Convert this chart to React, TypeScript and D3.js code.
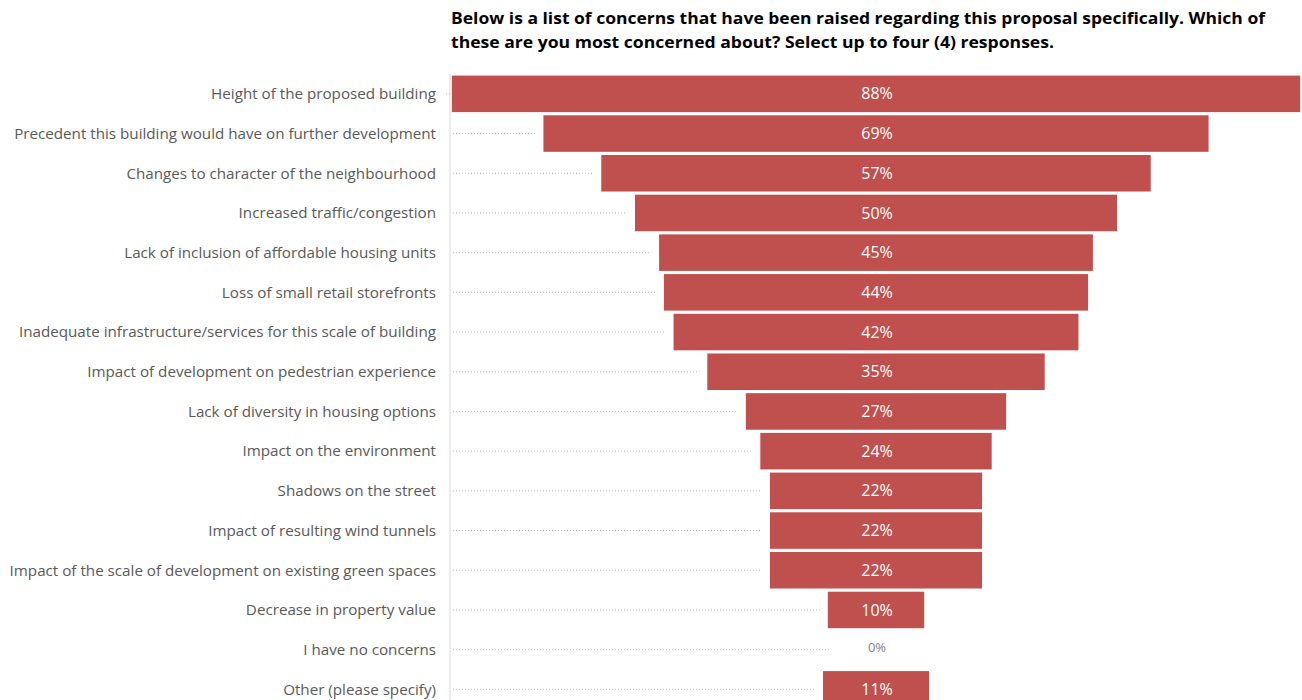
import React from "react";
import * as d3 from "d3";

const categories: string[] = [
  "Height of the proposed building",
  "Precedent this building would have on further development",
  "Changes to character of the neighbourhood",
  "Increased traffic/congestion",
  "Lack of inclusion of affordable housing units",
  "Loss of small retail storefronts",
  "Inadequate infrastructure/services for this scale of building",
  "Impact of development on pedestrian experience",
  "Lack of diversity in housing options",
  "Impact on the environment",
  "Shadows on the street",
  "Impact of resulting wind tunnels",
  "Impact of the scale of development on existing green spaces",
  "Decrease in property value",
  "I have no concerns",
  "Other (please specify)",
];
const values: number[] = [88, 69, 57, 50, 45, 44, 42, 35, 27, 24, 22, 22, 22, 10, 0, 11];
const titleLines: string[] = [
  "Below is a list of concerns that have been raised regarding this proposal specifically. Which of",
  "these are you most concerned about? Select up to four (4) responses.",
];
const titleWidths: number[] = [814, 603];

const W = 1302;
const H = 700;
const axisX = 450;
const centerX = 876;
const top = 74;
const rowStep = 39.7;

export default function App() {
  const y = d3
    .scaleBand<string>()
    .domain(categories)
    .range([top, top + rowStep * categories.length])
    .paddingInner(0.08)
    .paddingOuter(0.04);
  const w = d3.scaleLinear().domain([0, 100]).range([0, 964]);
  const font = "'Open Sans', 'Noto Sans', sans-serif";

  return (
    <svg
      width={W}
      height={H}
      style={{ position: "absolute", left: 0, top: 0, background: "#fff" }}
    >
      {titleLines.map((t, i) => (
        <text
          key={i}
          x={451}
          y={24 + i * 24}
          fontFamily={font}
          fontWeight={700}
          fontSize={15.5}
          fill="#000"
          textLength={titleWidths[i]}
          lengthAdjust="spacingAndGlyphs"
        >
          {t}
        </text>
      ))}
      <line x1={axisX} x2={axisX} y1={top} y2={H} stroke="#d9d9d9" strokeWidth={1} />
      {categories.map((c, i) => {
        const v = values[i];
        const bw = w(v);
        const x0 = centerX - bw / 2;
        const yy = y(c)!;
        const bh = y.bandwidth();
        const cy = yy + bh / 2;
        const lineEnd = v > 0 ? x0 - 8 : centerX - 46;
        return (
          <g key={c}>
            <text
              x={436}
              y={cy}
              dy="0.35em"
              textAnchor="end"
              fontFamily={font}
              fontSize={15.2}
              fill="#595959"
            >
              {c}
            </text>
            <line
              x1={axisX + 3}
              x2={lineEnd}
              y1={cy}
              y2={cy}
              stroke="#bfbfbf"
              strokeWidth={1}
              strokeDasharray="1,2"
            />
            {v > 0 && (
              <rect x={x0} y={yy} width={bw} height={bh} fill="#c0504d" />
            )}
            <text
              x={centerX + 1}
              y={v > 0 ? cy : cy - 2}
              dy="0.35em"
              textAnchor="middle"
              fontFamily={font}
              fontSize={v > 0 ? 16 : 13}
              fill={v > 0 ? "#ffffff" : "#7f7f7f"}
            >
              {v}%
            </text>
          </g>
        );
      })}
    </svg>
  );
}
